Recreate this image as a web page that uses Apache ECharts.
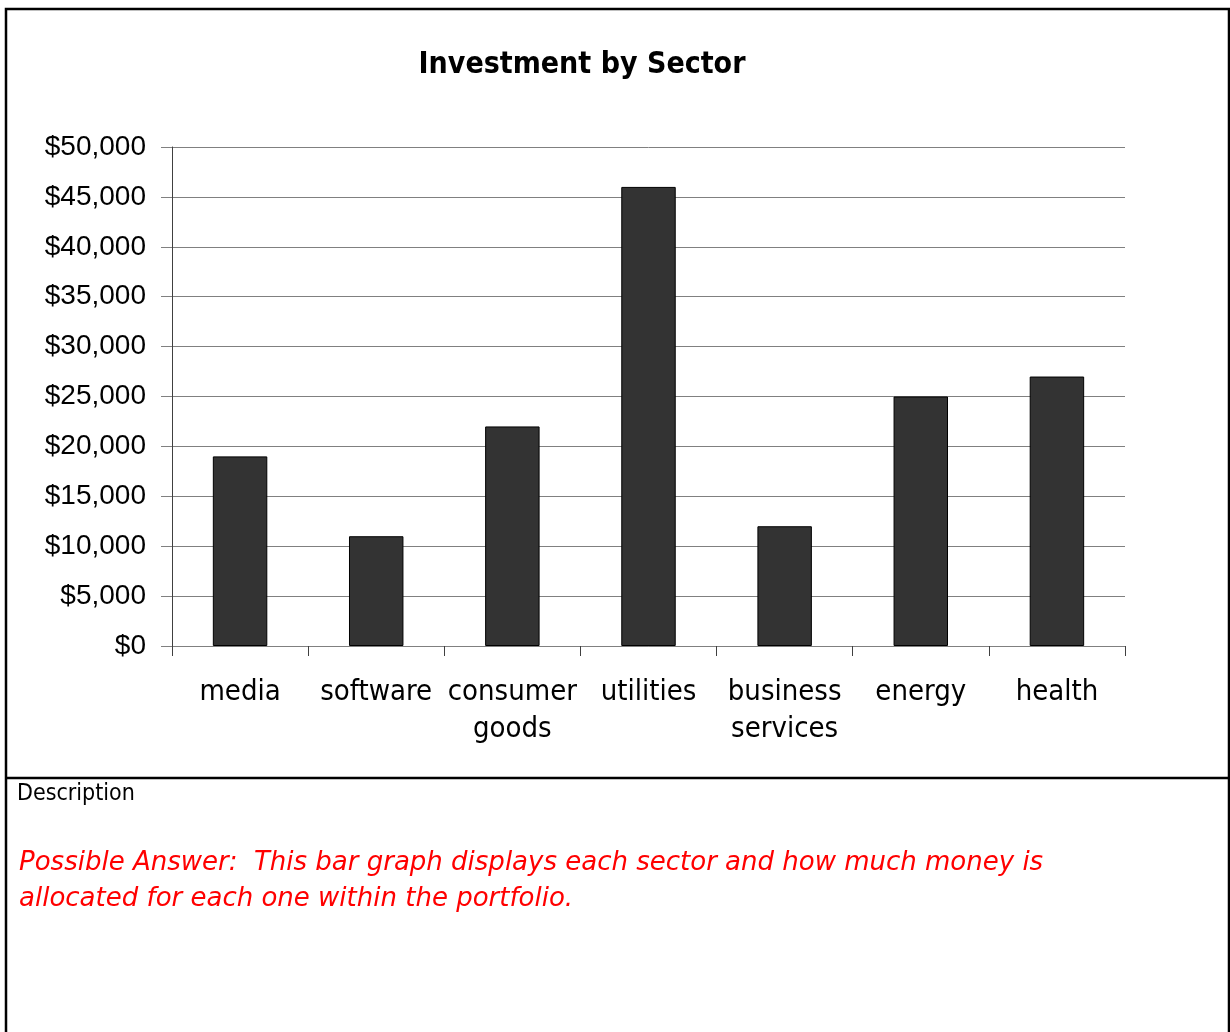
<!DOCTYPE html>
<html>
<head>
<meta charset="utf-8">
<title>Investment by Sector</title>
<script src="https://cdn.jsdelivr.net/npm/echarts@6/dist/echarts.min.js"></script>
<style>
  html, body { margin: 0; padding: 0; background: #fff; }
  #chart { width: 1230px; height: 1032px; }
</style>
</head>
<body>
<div id="chart"></div>
<script>
// Sector allocations (US dollars)
var sectors = ['media', 'software', 'consumer goods', 'utilities', 'business services', 'energy', 'health'];
var amounts = [19000, 11000, 22000, 46000, 12000, 25000, 27000];

// Value axis scale
var axisMin = 0;
var axisMax = 50000;
var axisStep = 5000;

// Text blocks
var chartTitle = 'Investment by Sector';
var descriptionHeading = 'Description';
var answerLines = [
  'Possible Answer:  This bar graph displays each sector and how much money is',
  'allocated for each one within the portfolio.'
];

var sansFace = '"DejaVu Sans Condensed", "DejaVu Sans", sans-serif';
var wideFace = '"DejaVu Sans", sans-serif';
var numFace = '"Liberation Sans", Arial, sans-serif';

function dollars(v) {
  return '$' + String(v).replace(/\B(?=(\d{3})+(?!\d))/g, ',');
}

var chart = echarts.init(document.getElementById('chart'), null, { renderer: 'canvas' });

chart.setOption({
  backgroundColor: '#ffffff',
  animation: false,
  title: {
    text: chartTitle,
    left: 577,
    top: 45,
    textAlign: 'center',
    textStyle: {
      fontFamily: sansFace,
      fontWeight: 'bold',
      fontSize: 30,
      color: '#000'
    }
  },
  grid: {
    left: 172,
    right: 105,
    top: 147,
    bottom: 386,
    containLabel: false
  },
  xAxis: {
    type: 'category',
    data: sectors,
    axisLine: { show: true, lineStyle: { color: '#808080', width: 1 } },
    axisTick: { show: true, length: 10, lineStyle: { color: '#404040' } },
    axisLabel: {
      interval: 0,
      margin: 28,
      fontFamily: sansFace,
      fontSize: 29,
      lineHeight: 37,
      color: '#000',
      formatter: function (name) { return name.replace(' ', '\n'); }
    }
  },
  yAxis: {
    type: 'value',
    min: axisMin,
    max: axisMax,
    interval: axisStep,
    axisLine: { show: true, lineStyle: { color: '#404040', width: 1 } },
    axisTick: { show: true, inside: false, length: 11, lineStyle: { color: '#808080' } },
    splitLine: { show: true, lineStyle: { color: '#808080', width: 1 } },
    axisLabel: {
      margin: 26,
      fontFamily: numFace,
      fontSize: 28,
      color: '#000',
      formatter: dollars
    }
  },
  series: [{
    type: 'bar',
    data: amounts,
    barCategoryGap: '60%',
    itemStyle: {
      color: '#333333',
      borderColor: '#000000',
      borderWidth: 1
    }
  }],
  graphic: [
    {
      type: 'rect',
      silent: true,
      shape: { x: 6, y: 9, width: 1223, height: 1060 },
      style: { fill: null, stroke: '#000', lineWidth: 2.5 }
    },
    {
      type: 'line',
      silent: true,
      shape: { x1: 6, y1: 778, x2: 1229, y2: 778 },
      style: { stroke: '#000', lineWidth: 2.5 }
    },
    {
      type: 'text',
      silent: true,
      left: 17,
      top: 783,
      style: {
        text: descriptionHeading,
        fontFamily: sansFace,
        fontSize: 23,
        fill: '#000'
      }
    },
    {
      type: 'text',
      silent: true,
      left: 19,
      top: 845,
      style: {
        text: answerLines.join('\n'),
        fontFamily: wideFace,
        fontStyle: 'italic',
        fontSize: 26,
        lineHeight: 36,
        fill: '#ff0000'
      }
    }
  ]
});
</script>
</body>
</html>
